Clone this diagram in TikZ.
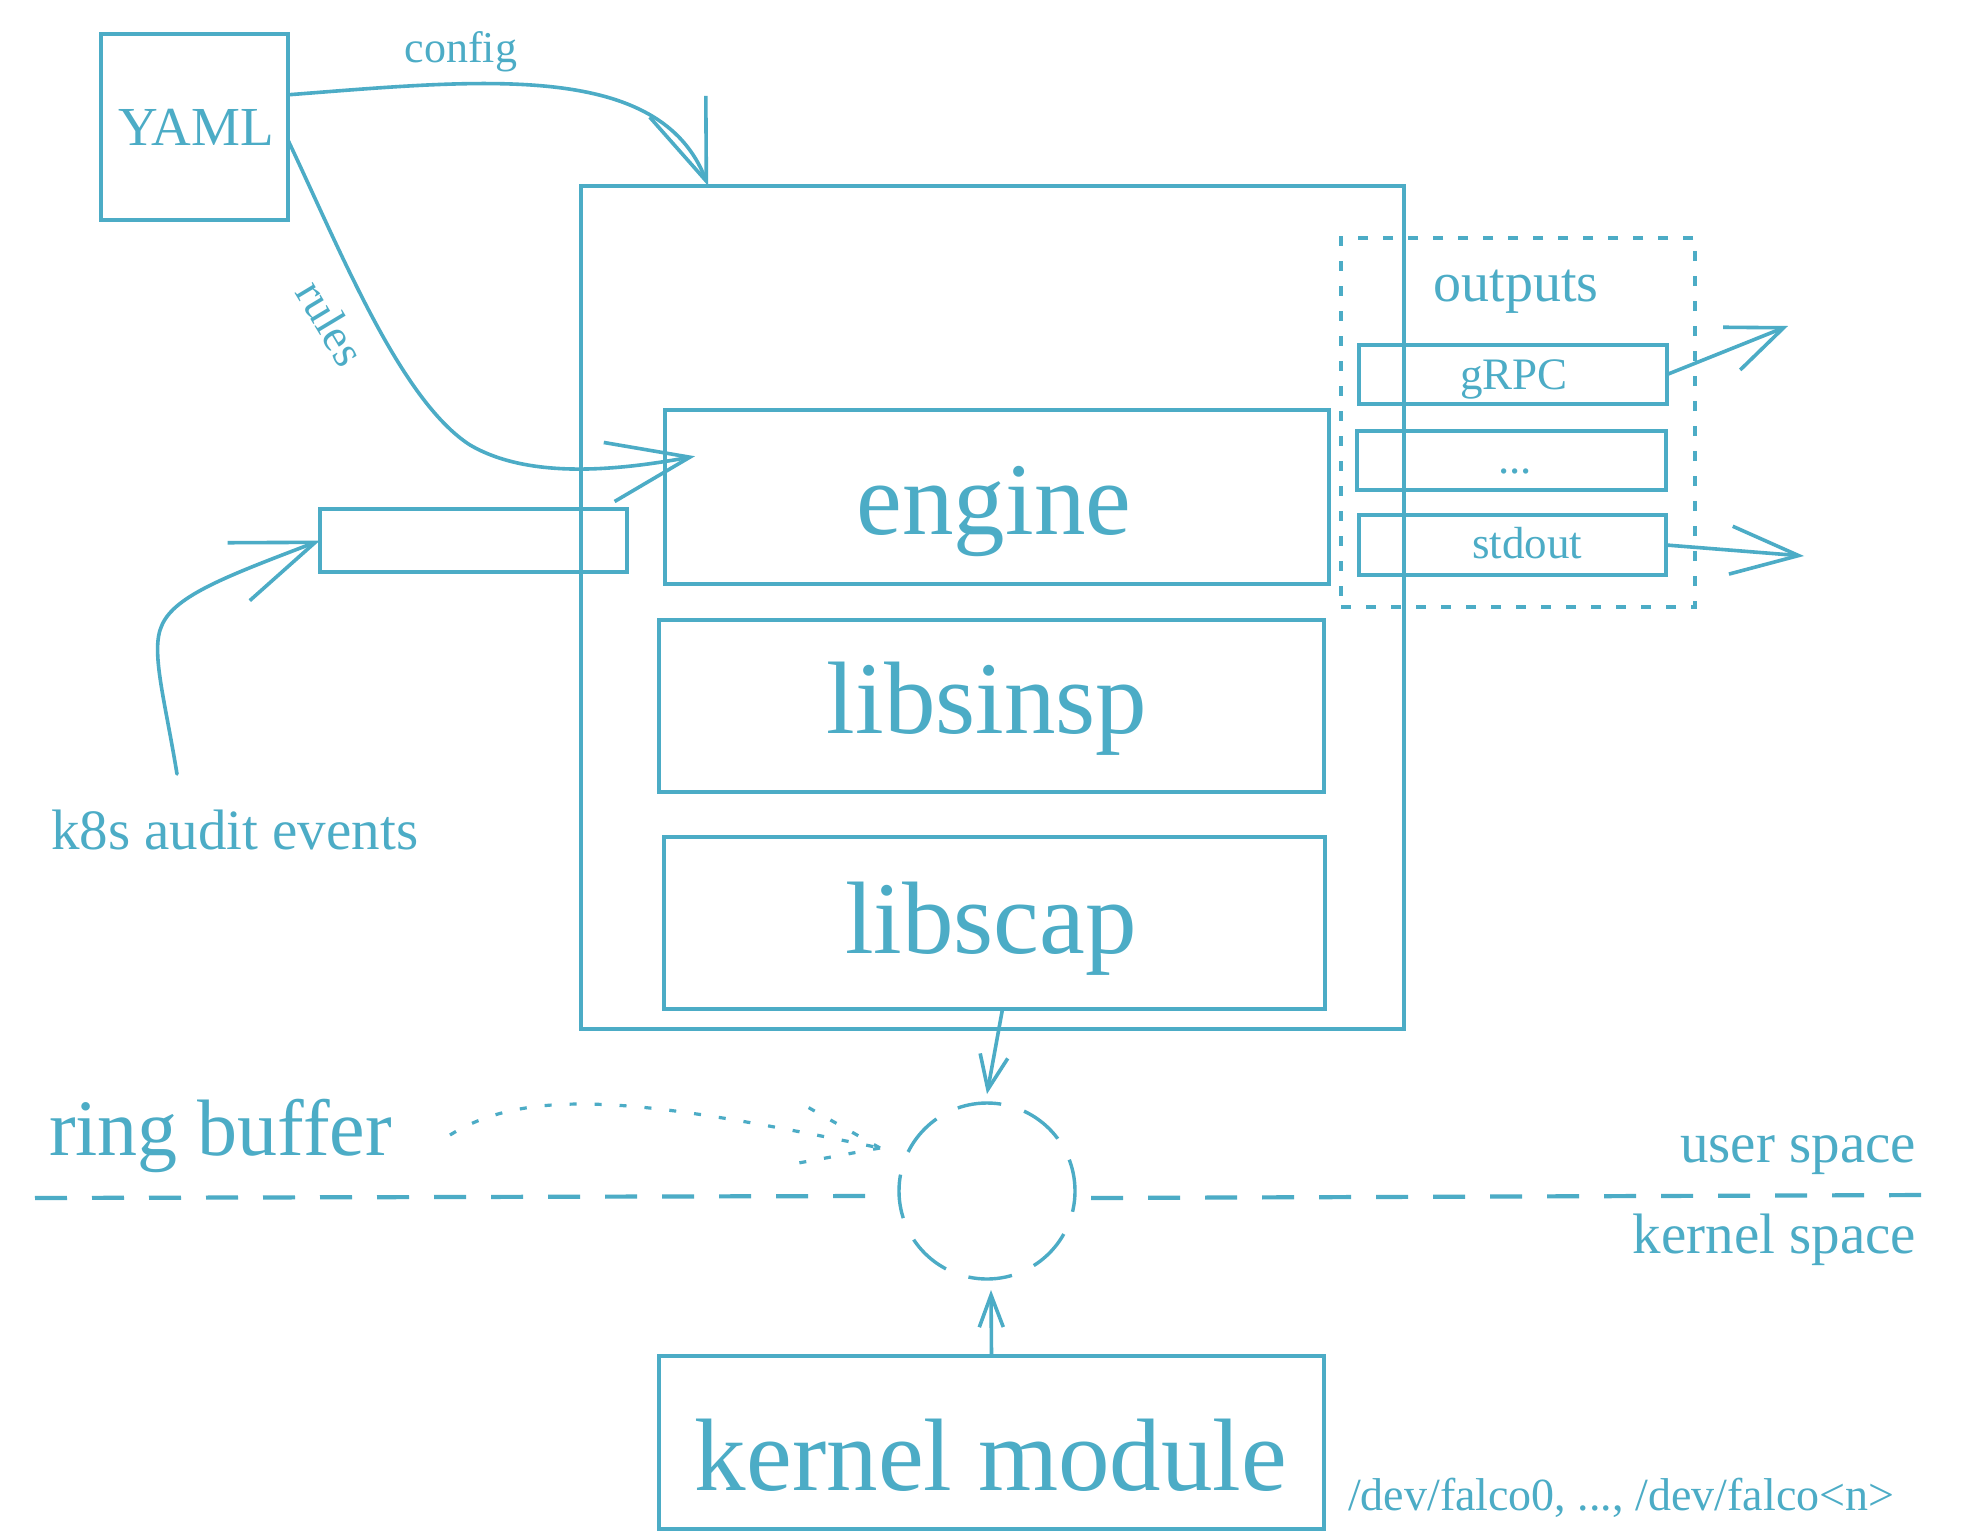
\documentclass[tikz,border=0pt]{standalone}
\usepackage{fontspec}
\setmainfont{Liberation Serif}
\usetikzlibrary{arrows.meta,calc}
\definecolor{falco}{RGB}{76,172,198}
\newcommand\fsz[1]{\fontsize{#1}{#1}\selectfont}
\begin{document}
\begin{tikzpicture}[x=0.5pt,y=-0.5pt,
  box/.style={draw=falco, line width=1.9pt, rectangle, inner sep=0pt, outer sep=0pt},
  txt/.style={text=falco, inner sep=0pt, outer sep=0pt},
  conn/.style={draw=falco, line width=1.8pt, line cap=round, line join=round},
  dotline/.style={draw=falco, line width=1.6pt, dash pattern=on 3.5pt off 9pt},
  sepline/.style={draw=falco, line width=2.1pt, dash pattern=on 16pt off 12.5pt},
  outbox/.style={draw=falco, line width=1.8pt, rectangle, dash pattern=on 5pt off 7.5pt, inner sep=0pt, outer sep=0pt},
  big/.style={txt, font=\fsz{51.5}},
  mid/.style={txt, font=\fsz{28.5}},
  small/.style={txt, font=\fsz{22.5}}
]
\useasboundingbox (0,0) rectangle (1986,1536);
\fill[white] (0,0) rectangle (1986,1536);

% boxes
\node[box, minimum width=93.5pt, minimum height=93pt] (yaml) at (194.5,127) {};
\node[box, minimum width=411.5pt, minimum height=421.5pt] (falco) at (992.5,607.5) {};
\node[box, minimum width=332pt, minimum height=87pt] (engine) at (997,497) {};
\node[box, minimum width=332.5pt, minimum height=86pt] (libsinsp) at (991.5,706) {};
\node[box, minimum width=330.5pt, minimum height=86pt] (libscap) at (994.5,923) {};
\node[box, minimum width=332.5pt, minimum height=86.5pt] (kmod) at (991.5,1442.5) {};
\node[box, minimum width=153.5pt, minimum height=31.5pt] (k8sbox) at (473.5,540.5) {};
\node[outbox, minimum width=177pt, minimum height=184.5pt] (outputs) at (1518,422.5) {};
\node[box, minimum width=154pt, minimum height=29.5pt] (grpc) at (1513,374.5) {};
\node[box, minimum width=154.5pt, minimum height=29.5pt] (dots) at (1511.5,460.5) {};
\node[box, minimum width=153.5pt, minimum height=30pt] (stdout) at (1512.5,545) {};
\node[draw=falco, circle, line width=1.7pt, dash pattern=on 22pt off 12pt, dash phase=6pt, minimum size=88pt, inner sep=0pt, outer sep=0pt] (ring) at (987,1191) {};

% texts
\node[txt, font=\fsz{27.5}, anchor=base] (yamltxt) at (196,146) {YAML};
\node[big, anchor=base] (enginetxt) at (994,534) {engine};
\node[big, anchor=base] (libsinsptxt) at (987,733) {libsinsp};
\node[big, anchor=base] (libscaptxt) at (991,953) {libscap};
\node[big, anchor=base] (kmodtxt) at (991,1490) {kernel module};
\node[txt, font=\fsz{22}, anchor=base] (configtxt) at (461,63) {config};
\node[txt, font=\fsz{23}, rotate=-59] (rulestxt) at (331,323) {rules};
\node[txt, font=\fsz{28}, anchor=base] (outputstxt) at (1516,301) {outputs};
\node[small, anchor=base] (grpctxt) at (1514,389) {gRPC};
\node[small, anchor=base] (dotstxt) at (1515,473) {...};
\node[small, anchor=base] (stdouttxt) at (1527,558) {stdout};
\node[mid, anchor=base west] (k8stxt) at (51,849) {k8s audit events};
\node[txt, font=\fsz{40}, anchor=base west] (ringtxt) at (49,1155) {ring buffer};
\node[mid, anchor=base east] (usertxt) at (1916,1162) {user space};
\node[mid, anchor=base east] (kerneltxt) at (1916,1253) {kernel space};
\node[txt, font=\fsz{23}, anchor=base west] (devtxt) at (1348,1510) {/dev/falco0, ..., /dev/falco<n>};

% free ends
\coordinate (k8sstart) at (177,774);
\coordinate (grpctip) at (1788,326);
\coordinate (stdtip) at (1804,556);
\coordinate (rbstart) at (450,1135);
\coordinate (rbtip) at (880,1148);
\coordinate (sepL1) at (35,1198);
\coordinate (sepL2) at (871,1196);
\coordinate (sepR1) at (1091,1198);
\coordinate (sepR2) at (1929,1195);

% connectors
\draw[conn, -{Straight Barb[length=40pt,width=30pt]}] (yaml.19) .. controls (480,80) and (660,60) .. (falco.124.2);
\draw[conn, -{Straight Barb[length=41pt,width=30pt]}] (yaml.-8) .. controls (340,250) and (400,400) .. (470,445) .. controls (530,480) and (620,470) .. ([xshift=15pt]engine.173.3);
\draw[conn, -{Straight Barb[length=41pt,width=31pt]}] (k8sstart) .. controls (165,700) and (150,650) .. (162,625) .. controls (175,595) and (230,575) .. (k8sbox.west);
\draw[conn, -{Straight Barb[length=28pt,width=23pt]}] (grpc.east) -- (grpctip);
\draw[conn, -{Straight Barb[length=34pt,width=24pt]}] (stdout.east) -- (stdtip);
\draw[conn, -{Straight Barb[length=17pt,width=14pt]}] ([xshift=4pt]libscap.south) -- ([yshift=4.5pt]ring.north);
\draw[conn, -{Straight Barb[length=16pt,width=12pt]}] (kmod.north) -- ([yshift=-5.5pt,xshift=2pt]ring.south);

% ring buffer dotted pointer
\draw[dotline] (rbstart) .. controls (530,1085) and (650,1100) .. (rbtip);
\draw[dotline] (rbtip) -- ++(-76,-43);
\draw[dotline] (rbtip) -- ++(-87,16);

% user / kernel separator
\draw[sepline] (sepL1) -- (sepL2);
\draw[sepline] (sepR1) -- (sepR2);
\end{tikzpicture}
\end{document}
